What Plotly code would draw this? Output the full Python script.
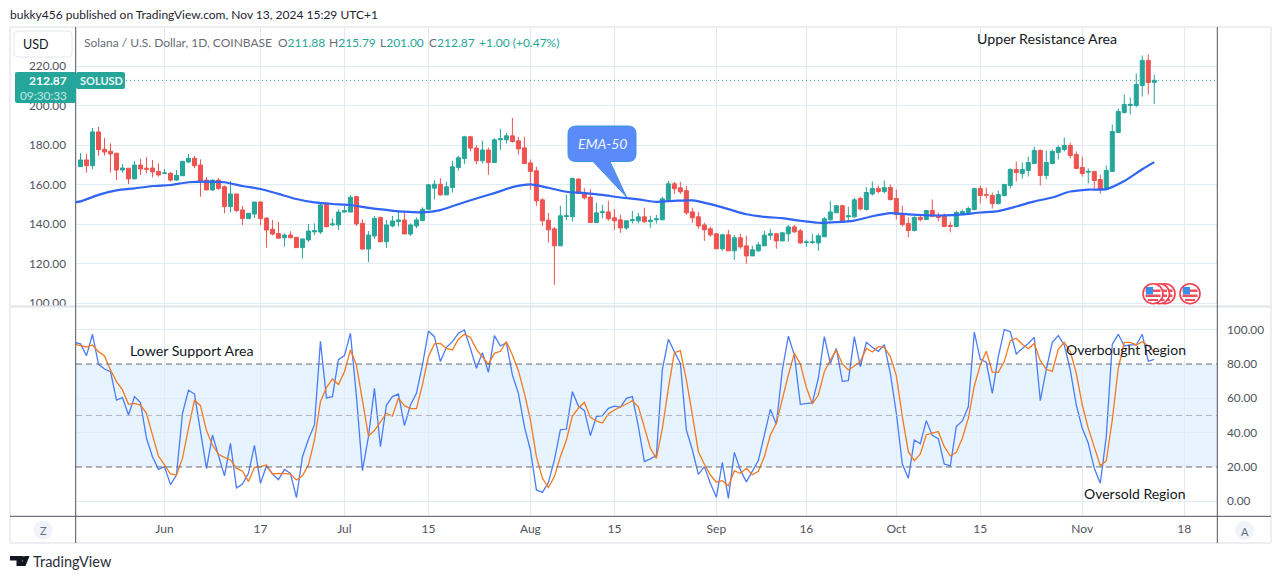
import pandas as pd
import plotly.graph_objects as go

W, H = 1281, 579

dates = pd.date_range("2024-05-18", periods=180, freq="D").strftime("%Y-%m-%d").tolist()

open_p = [169.2, 172.6, 169.7, 186.8, 178, 177, 176, 167.5, 168.4, 163, 170, 168.4, 168.5, 166.8, 165.7, 165.8, 162.4, 164.6, 171.6, 173.4,
          170, 162.4, 157.4, 162.4, 159, 149, 155.4, 147.3, 142.9, 145.2, 151.3, 143.2, 137.5, 135.4, 133.2, 134.6, 133.4, 128.2, 132.1, 136.2,
          136.1, 150.3, 139.7, 139.7, 146.2, 146.2, 154, 140.5, 127.5, 134.1, 143.4, 131.2, 139.2, 141.4, 142.2, 135.1, 139.2, 141.9, 147.6, 158.3,
          160.3, 154.9, 158.6, 168.8, 173.3, 184.3, 178.6, 172.2, 177.6, 171.3, 182.8, 182.8, 184.8, 182.3, 178.7, 171.1, 167.1, 152.4, 142.1, 137.7,
          129.1, 144, 143.8, 162.9, 155.9, 153.8, 140.9, 146, 146.3, 143.3, 142.3, 138.2, 141.9, 141.8, 143.8, 141.4, 142.3, 142.3, 152.4, 160.5,
          158.5, 157, 146.3, 143.8, 139.7, 137.7, 135.2, 127.6, 134.7, 126.6, 133.2, 129.1, 124, 126.6, 129.1, 134.5, 135.2, 131.6, 135.2, 138.7,
          136.7, 130.8, 130.8, 130.6, 133.7, 142.3, 145.8, 149.4, 143.8, 143.8, 153.1, 147.5, 155.4, 158.1, 156.6, 158.6, 153.1, 145.5, 140.4, 136.9,
          143.5, 142.4, 147, 144.5, 144.3, 139.4, 138.9, 145.5, 146, 147.5, 158.1, 155.1, 154.6, 150.5, 154.6, 159.7, 167.8, 165.7, 167.3, 170.8,
          177.4, 164.7, 170.8, 176.4, 177.9, 179.9, 175.4, 168.8, 166.4, 166.8, 162.7, 157.6, 166.8, 186.5, 196.6, 200.2, 200.2, 210.3, 223, 211.88]
high_p = [176, 175.6, 188.8, 189.3, 183.7, 181, 176, 170.5, 168.4, 172, 173.2, 174, 172.6, 170.9, 168, 166.5, 167.5, 172, 175.6, 174.6,
          172.9, 163.8, 162.7, 163.4, 159.7, 161.8, 155.4, 149.3, 145.6, 151.3, 151.6, 143.5, 142.2, 141.2, 135.4, 136.5, 133.4, 132.6, 140.2, 140.5,
          151.1, 150.6, 143, 147.6, 149.5, 154.8, 154.3, 142.5, 136.6, 144.2, 143.9, 142.2, 144.2, 146.4, 146.4, 140.5, 143.5, 148.6, 160.3, 162.4,
          163.4, 161.5, 172.2, 174.7, 184.8, 184.8, 180.1, 182.3, 178.9, 183.5, 188.4, 186.2, 193.8, 184.3, 184.3, 172.8, 169.1, 153.2, 145.8, 138.7,
          149.4, 154.9, 163.7, 163.4, 158.3, 157.8, 150.9, 149.9, 151.9, 147.7, 144.8, 141.8, 146.8, 145.8, 148.4, 144.3, 144.8, 153.9, 162, 161.5,
          161.5, 159.5, 148.4, 146.3, 140.8, 138.7, 135.7, 135.2, 137.2, 134.7, 135.2, 134.2, 129.1, 131.1, 136.7, 137.7, 135.7, 136.2, 139.7, 139.7,
          137.7, 132.2, 135.2, 135.2, 143.8, 151.9, 149.4, 149.9, 148.9, 153.4, 154, 158.8, 161.7, 159.7, 162.2, 160.2, 157.6, 149.5, 143.5, 144.1,
          145.3, 147, 152.6, 146, 145.5, 141.4, 147, 147.5, 149, 158.6, 159.7, 158.6, 156.1, 157.1, 160.2, 168.3, 171.8, 171.3, 174.3, 179.4,
          177.9, 177.4, 177.9, 179.9, 184, 181.4, 176.9, 174.3, 168.3, 166.8, 165.2, 169.8, 190.5, 198.6, 205.7, 204.2, 216.4, 225.5, 226, 215.79]
low_p = [169.2, 166.2, 168, 174.8, 174.8, 166.2, 162.4, 166.2, 160.4, 163, 165, 165.8, 163.8, 164.1, 165.5, 161.6, 162, 164.6, 170.9, 168.4,
         154, 157.4, 157, 157.4, 145.6, 146, 146.2, 139.7, 142.9, 143.2, 139.7, 128.2, 134.4, 133, 128.7, 133, 128.2, 122.6, 131, 134.6,
         135.1, 138.5, 139.2, 137.1, 146, 146.2, 139.2, 127, 120.9, 132.7, 131.2, 128, 138.5, 138.8, 135.1, 134.1, 138.1, 141.9, 147.6, 152.6,
         154.6, 154.9, 156.1, 167.1, 170.5, 176.9, 170.5, 170.8, 165, 171.3, 177.7, 180.9, 181.4, 175.2, 170.5, 157.5, 149.4, 139.2, 130.8, 109.4,
         129.1, 142.1, 141.4, 155.3, 152.6, 140.9, 140.9, 143, 141.8, 137.2, 135.7, 137.2, 140.4, 140.4, 140.8, 138.2, 140.4, 142.3, 151.9, 155.3,
         155.4, 144.8, 140.8, 137.7, 131.6, 133.7, 127.6, 126.6, 126.6, 122, 127.6, 120, 124, 126.1, 129.1, 132.2, 127.6, 131.6, 131.1, 135.7,
         130.1, 128.6, 130.1, 126.6, 133.7, 141.8, 145.8, 140.8, 141.8, 143.3, 147, 147, 154.6, 155.6, 155.6, 152, 142.4, 138.9, 133.3, 136.4,
         141.4, 142.4, 144, 141.4, 138.9, 135.9, 138.9, 145, 145, 147, 150.5, 153.1, 148, 150, 154.1, 158.1, 161.7, 163.2, 164.2, 170.8,
         159.7, 162.7, 170.3, 172.8, 176.9, 173.3, 168.3, 164.2, 160.7, 158.1, 155.6, 157.1, 166.8, 186.5, 196.1, 195.6, 199.2, 204.7, 205.7, 201]
close_p = [172.6, 169.7, 186.8, 177.8, 176.6, 175.6, 167.5, 168.5, 163, 170, 168, 167.9, 166.5, 165, 166, 162.4, 164.8, 171.9, 173.4, 169.7,
           161.6, 157.4, 162.4, 158.2, 149, 155.4, 147, 142.9, 145.6, 151.3, 142.9, 137.1, 135.1, 133, 134.6, 133.2, 128.2, 132.6, 136.6, 136.8,
           149.8, 138.8, 140.2, 146.2, 146.9, 153.7, 140.2, 127.5, 134.6, 143, 131.2, 139.7, 141.7, 142.2, 135.1, 139.7, 142.2, 147.6, 160, 160.3,
           154.9, 159, 169.1, 173.7, 184.3, 178.6, 172.2, 177.6, 171.3, 182.8, 183.3, 184.8, 181.9, 178.2, 170.8, 166.8, 151.9, 141.8, 137.2, 129.1,
           144.3, 144.3, 163.2, 155.6, 153.4, 140.9, 145.8, 146.3, 142.8, 141.8, 138.2, 141.8, 142.3, 143.8, 141.3, 142.1, 142.8, 152.9, 160.5, 158,
           156.5, 145.8, 143.3, 139.2, 137.2, 134.7, 127.6, 134.7, 126.6, 133.2, 128.6, 124, 127.1, 129.6, 134.5, 135.2, 131.6, 135.7, 138.7, 136.2,
           130.6, 131.1, 131.1, 134.2, 142.8, 146.3, 149.4, 141.8, 144.3, 152.4, 147.8, 156.1, 158.1, 156.6, 158.6, 152.6, 145, 139.9, 136.9, 143.5,
           142.4, 147, 144, 143.5, 138.9, 139, 146, 146.5, 148, 158.1, 154.6, 154.8, 150.5, 155.1, 160.2, 167.8, 166.2, 167.8, 171.3, 177.4,
           164.7, 171.3, 176.9, 178.9, 179.9, 174.9, 168.3, 165.7, 166.8, 162.2, 157.6, 167.3, 187, 197.1, 200.7, 200.7, 210.8, 223, 211.8, 212.87]

# EMA read every third candle, plus one value at the left edge and the final candle
ema_dates = ["2024-05-17"] + [dates[i] for i in range(0, 178, 3)] + [dates[179]]
ema_50 = [151.1, 151.6, 154.9, 157.2, 158.2, 159.4, 159.9, 161.3, 161.6, 161.3, 159.4, 157.9, 155.4, 152.8, 151.1, 150.3, 149.8, 148.3, 147.3, 146.4, 146.1,
          147.2, 150.2, 153.1, 155.8, 158.8, 160.2, 158.5, 156.5, 155.8, 154.9, 153.6, 152.6, 151.4, 151.9, 152.1, 150.2, 147.7, 145.1, 143.8, 143.1,
          141.8, 140.8, 141.1, 141.9, 144.1, 145.7, 145, 144.6, 144.5, 145, 146, 146.7, 149, 151.6, 153.6, 156.6, 157.6, 157.8, 161.9, 167.9, 171.5]

# stochastic lines also run off the left edge, hence the extra leading date
stoch_dates = ["2024-05-17"] + dates
stoch_k = [92.6, 91.7, 84.9, 97.3, 79.8, 77.1, 75.5, 59, 60.4, 50.3, 61, 57.5, 36.7, 26, 18.6, 20.2, 9.7, 15.3, 51.3, 64.7, 62.5,
           41.6, 19, 38.6, 26, 14.8, 33.8, 7.8, 10.1, 16.3, 32.6, 10.5, 20.6, 15.9, 12.6, 18.6, 16.3, 2.1, 26, 36.1, 44.5,
           93.2, 60.2, 61, 82.5, 84.9, 97.9, 61, 17.9, 37.7, 65.8, 31.8, 56.1, 61, 62.5, 44.1, 56.1, 62.9, 79.4, 99.2, 95.9,
           81.4, 89.7, 93, 97.9, 99.8, 89.1, 77.5, 86.6, 75.1, 96.5, 90.5, 92.4, 73.6, 62.9, 43.5, 29.9, 6.6, 5.2, 10.9, 24.1,
           41.6, 42.1, 63.9, 55.5, 52.8, 38.3, 49.3, 49.9, 54.2, 55.5, 54.8, 60, 61, 43.5, 23.1, 24.7, 26.6, 76.9, 94.4, 87.2,
           80.4, 41.6, 29.9, 15.7, 20.2, 10.5, 2.3, 22.7, 1.7, 28.5, 18.3, 11.3, 17.7, 23.7, 38.6, 53.6, 44.9, 76.5, 96.3, 85.2,
           56.5, 56.9, 57.3, 71.7, 95.9, 80.4, 89.1, 69.9, 70.3, 95.9, 78.4, 92.6, 89.7, 87.4, 91.3, 74.6, 51.3, 21.7, 13.4, 35.7,
           33.6, 47, 38.4, 36.5, 21.7, 20.6, 43.5, 46.8, 55.1, 98.6, 82.7, 81, 62.9, 84.3, 100, 98.8, 85.8, 89.1, 92, 95.5,
           58.6, 76.9, 92.6, 96.5, 91.1, 76.5, 56.1, 42.5, 33.8, 19.2, 10.5, 37.7, 91.5, 97.3, 90.5, 91.1, 91.1, 97.3, 81.6, 82.7]
stoch_d = [91.5, 90.7, 89.9, 91.1, 87.2, 84.7, 76.5, 69.7, 64.9, 56.5, 57.1, 56.1, 51.3, 38.6, 26.4, 21.2, 15.9, 15.3, 25, 42.5, 59,
           55.7, 41.2, 32.8, 27.4, 25.6, 24.1, 19.2, 17.7, 11.5, 19.8, 20.2, 21.2, 15.9, 16.3, 16.1, 15.9, 12.4, 14.8, 21.2, 35.7,
           58.1, 66.2, 71.3, 68, 75.5, 88.2, 79.4, 59, 38.1, 41.2, 46.4, 51.3, 49.7, 60, 55.7, 54, 54, 67.8, 84.3, 91.7,
           92, 89.1, 88.2, 94.4, 97.3, 95.5, 88.5, 84.3, 79.8, 86.2, 87.4, 93, 85.2, 76.1, 62.9, 47.4, 26, 13.4, 8, 14.4,
           26, 35.7, 49.7, 54.2, 57.7, 48.9, 46.8, 45.6, 50.9, 53.2, 54.8, 56.7, 58.6, 55.1, 43.1, 30.9, 25, 42.5, 65.8, 86.6,
           87.8, 70.7, 50.3, 28.9, 21.6, 15.3, 11.1, 12, 8.9, 17.7, 16.3, 19.2, 15.5, 17.5, 26, 38.6, 45.4, 60, 73.6, 86.2,
           80, 66.4, 56.7, 61.9, 75.5, 82.3, 88.2, 80, 76.5, 78.8, 81.4, 89.1, 87, 90.1, 89.7, 84.3, 73.2, 49.3, 28.9, 23.7,
           27.6, 38.8, 39.6, 40.6, 31.8, 26.4, 28.5, 36.7, 48.3, 67.2, 79.4, 87.4, 75.3, 75.1, 81.4, 93.6, 95, 91.5, 88.9, 92,
           81.9, 76.9, 75.7, 88.5, 92.6, 87.2, 74.6, 56.1, 42.5, 30.9, 20.8, 23.5, 47.4, 77.5, 92.6, 92.6, 91.1, 93, 90.7, 87]

price_ticks = [100, 120, 140, 160, 180, 200, 220]
stoch_ticks = [0, 20, 40, 60, 80, 100]
date_ticks = ["2024-06-01", "2024-06-17", "2024-07-01", "2024-07-15", "2024-08-01", "2024-08-15",
              "2024-09-01", "2024-09-16", "2024-10-01", "2024-10-15", "2024-11-01", "2024-11-18"]
date_labels = ["Jun", "17", "Jul", "15", "Aug", "15", "Sep", "16", "Oct", "15", "Nov", "18"]

FONT = "Lato"
UP = "#26a69a"
DOWN = "#ef5350"
GRID = "#e1ecf2"
AXIS_TEXT = "#50535e"
FRAME = "#eceef2"
DARK_LINE = "#50535e"


def px(x):
    return x / W


def py(y):
    return 1 - y / H


fig = go.Figure()

fig.add_trace(go.Candlestick(
    x=dates, open=open_p, high=high_p, low=low_p, close=close_p,
    increasing=dict(line=dict(color=UP, width=1), fillcolor=UP),
    decreasing=dict(line=dict(color=DOWN, width=1), fillcolor=DOWN),
    whiskerwidth=0, xaxis="x", yaxis="y",
))
fig.add_trace(go.Scatter(
    x=ema_dates, y=ema_50, mode="lines",
    line=dict(color="#2f64f5", width=2.2, shape="spline", smoothing=0.6),
    xaxis="x", yaxis="y",
))
fig.add_trace(go.Scatter(x=stoch_dates, y=stoch_k, mode="lines", line=dict(color="#4a7cf7", width=1.3),
                         xaxis="x2", yaxis="y2"))
fig.add_trace(go.Scatter(x=stoch_dates, y=stoch_d, mode="lines", line=dict(color="#f5791f", width=1.3),
                         xaxis="x2", yaxis="y2"))

x_range = ["2024-05-17 06:00", "2024-11-23 11:00"]
x_common = dict(type="date", range=x_range, tickmode="array", tickvals=date_ticks, ticktext=date_labels,
                showgrid=True, gridcolor=GRID, gridwidth=1, zeroline=False, showline=False, ticks="",
                fixedrange=True, automargin=False, domain=[px(76), px(1217)])
y_common = dict(tickmode="array", showgrid=True, gridcolor=GRID, zeroline=False, showline=False, ticks="",
                ticklabelstandoff=9, tickfont=dict(family=FONT, size=11.8, color=AXIS_TEXT),
                fixedrange=True, automargin=False)

fig.update_layout(
    width=W, height=H, autosize=False, margin=dict(l=0, r=0, t=0, b=0),
    paper_bgcolor="white", plot_bgcolor="white", showlegend=False, hovermode=False,
    boxgap=0.33, boxgroupgap=0, boxmode="group",
    font=dict(family=FONT, size=12, color=AXIS_TEXT),
    xaxis=dict(anchor="y", showticklabels=False, rangeslider=dict(visible=False), **x_common),
    xaxis2=dict(anchor="y2", showticklabels=True, ticklabelstandoff=4,
                tickfont=dict(family=FONT, size=12, color=AXIS_TEXT), **x_common),
    yaxis=dict(domain=[py(306.5), py(27)], range=[98.4, 239.9], anchor="x", side="left",
               tickvals=price_ticks, ticktext=[f"{v:.2f}" for v in price_ticks], **y_common),
    yaxis2=dict(domain=[py(516.3), py(306.5)], range=[-8.74, 113.5], anchor="x2", side="right",
                tickvals=stoch_ticks, ticktext=[f"{v:.2f}" for v in stoch_ticks], **y_common),
)

# stochastic band and its levels
fig.add_shape(type="rect", xref="x2 domain", yref="y2", x0=0, x1=1, y0=20, y1=80,
              fillcolor="rgba(33,150,243,0.11)", line_width=0, layer="below")
for level, colour in [(80, "#6a6d78"), (50, "#b2b5be"), (20, "#6a6d78")]:
    fig.add_shape(type="line", xref="x2 domain", yref="y2", x0=0, x1=1, y0=level, y1=level,
                  line=dict(color=colour, width=1, dash="6px,4px"))

# last price line
fig.add_shape(type="line", xref="paper", yref="y", x0=px(126), x1=px(1217), y0=close_p[-1], y1=close_p[-1],
              line=dict(color=UP, width=1, dash="1px,3px"))


def frame_line(x0, y0, x1, y1, colour, width=1):
    fig.add_shape(type="line", xref="paper", yref="paper", x0=px(x0), y0=py(y0), x1=px(x1), y1=py(y1),
                  line=dict(color=colour, width=width))


def frame_rect(x0, y0, x1, y1, fill, line_colour=None, radius=0, width=1):
    # rounded rectangle as a path in paper coordinates
    r = radius
    path = (f"M {px(x0 + r)} {py(y0)} L {px(x1 - r)} {py(y0)} Q {px(x1)} {py(y0)} {px(x1)} {py(y0 + r)} "
            f"L {px(x1)} {py(y1 - r)} Q {px(x1)} {py(y1)} {px(x1 - r)} {py(y1)} "
            f"L {px(x0 + r)} {py(y1)} Q {px(x0)} {py(y1)} {px(x0)} {py(y1 - r)} "
            f"L {px(x0)} {py(y0 + r)} Q {px(x0)} {py(y0)} {px(x0 + r)} {py(y0)} Z")
    fig.add_shape(type="path", xref="paper", yref="paper", path=path, fillcolor=fill,
                  line=dict(color=line_colour or fill, width=width if line_colour else 0))


def circle(cx, cy, r, fill, line_colour=None, width=0):
    fig.add_shape(type="circle", xref="paper", yref="paper", x0=px(cx - r), x1=px(cx + r),
                  y0=py(cy + r), y1=py(cy - r), fillcolor=fill,
                  line=dict(color=line_colour or fill, width=width))


def label(x, y, text, size=12, colour=AXIS_TEXT, anchor="left"):
    fig.add_annotation(xref="paper", yref="paper", x=px(x), y=py(y), text=text, showarrow=False,
                       xanchor=anchor, yanchor="middle", align=anchor,
                       font=dict(family=FONT, size=size, color=colour), borderpad=0, borderwidth=0)


# outer frame and axis lines
frame_line(10, 27, 1271, 27, FRAME, 2)
frame_line(10, 27, 10, 543, FRAME, 2)
frame_line(1271, 27, 1271, 543, FRAME, 2)
frame_line(10, 543, 1271, 543, FRAME, 2)
frame_line(10, 306.5, 1271, 306.5, "#e0e3eb", 2)
frame_line(10, 516.3, 1271, 516.3, DARK_LINE, 1)
frame_line(75.7, 27, 75.7, 543, DARK_LINE, 1)
frame_line(1217.3, 27, 1217.3, 543, DARK_LINE, 1)

# scale buttons and price tags
frame_rect(14, 31, 72, 57, "white", "#e6e8ee", radius=4)
frame_rect(15, 72, 76, 103, UP, radius=2)
frame_rect(76, 72, 125, 89, UP, radius=2)
circle(43, 530, 9.5, "#f0f3fa")
circle(1244.5, 530.5, 9.5, "#f0f3fa")

# EMA-50 callout
fig.add_shape(type="path", xref="paper", yref="paper",
              path=(f"M {px(576)} {py(126)} L {px(628)} {py(126)} Q {px(636)} {py(126)} {px(636)} {py(134)} "
                    f"L {px(636)} {py(154)} Q {px(636)} {py(161.5)} {px(628)} {py(161.5)} L {px(610)} {py(161.5)} "
                    f"L {px(626.5)} {py(197)} L {px(593)} {py(161.5)} L {px(576)} {py(161.5)} "
                    f"Q {px(568)} {py(161.5)} {px(568)} {py(154)} L {px(568)} {py(134)} "
                    f"Q {px(568)} {py(126)} {px(576)} {py(126)} Z"),
              fillcolor="#5b8bfb", line=dict(color="#3f95e0", width=1))

# event flags, back to front
for cx in [1165, 1159.5, 1153, 1190]:
    circle(cx, 293.7, 10, "white", "#f0404f", 1.6)
    frame_rect(cx - 7.5, 289.5, cx + 7.5, 292, "#f0505c")
    frame_rect(cx - 7.5, 294.5, cx + 7.5, 297, "#f0505c")
    frame_rect(cx - 5, 299, cx + 5, 301, "#f0505c")
    frame_rect(cx - 7, 287, cx, 294.5, "#3d8ee8")

# TradingView logo
fig.add_shape(type="path", xref="paper", yref="paper",
              path=(f"M {px(10)} {py(556)} L {px(22)} {py(556)} L {px(22)} {py(566)} L {px(16.5)} {py(566)} "
                    f"L {px(16.5)} {py(560.5)} L {px(10)} {py(560.5)} Z"),
              fillcolor="#131722", line_width=0)
fig.add_shape(type="path", xref="paper", yref="paper",
              path=(f"M {px(24.5)} {py(556)} L {px(29.5)} {py(556)} L {px(25.5)} {py(566)} L {px(20.5)} {py(566)} Z"),
              fillcolor="#131722", line_width=0)
circle(22.5, 558.2, 2.3, "#131722")

# texts
label(10, 15, "bukky456 published on TradingView.com, Nov 13, 2024 15:29 UTC+1", 12, "#1f2430")
label(23, 44.5, "USD", 12.5, "#131722")
label(84, 42, "Solana / U.S. Dollar, 1D, COINBASE", 12, "#6a6d78")
for x, key, val in [(277.7, "O", "211.88"), (329, "H", "215.79"), (380, "L", "201.00"), (429, "C", "212.87")]:
    label(x, 42, f'<span style="color:#6a6d78">{key}</span>{val}', 12, UP)
label(479, 42, "+1.00 (+0.47%)", 12, UP)
label(67, 80.5, "<b>212.87</b>", 12, "white", "right")
label(67, 95, "09:30:33", 11.8, "#bfe6e1", "right")
label(80, 80.5, "<b>SOLUSD</b>", 11, "#e9f7f5")
label(602, 143, "<i>EMA-50</i>", 14, "#eef3ff", "center")
label(1046.5, 38.5, "Upper Resistance Area", 14.2, "#131722", "center")
label(191.5, 350.5, "Lower Support Area", 14.2, "#131722", "center")
label(1125.5, 349.5, "Overbought Region", 14, "#131722", "center")
label(1134, 493.5, "Oversold Region", 14, "#131722", "center")
label(43, 530.5, "Z", 11, "#6a6d78", "center")
label(1244.5, 531, "A", 11, "#6a6d78", "center")
label(33, 561, "TradingView", 14.5, "#2a2e39")

# default page has an 8px body margin, drop it so the figure sits at the window corner
fig.write_html("out.html", config={"displayModeBar": False}, post_script="document.body.style.margin='0';")
